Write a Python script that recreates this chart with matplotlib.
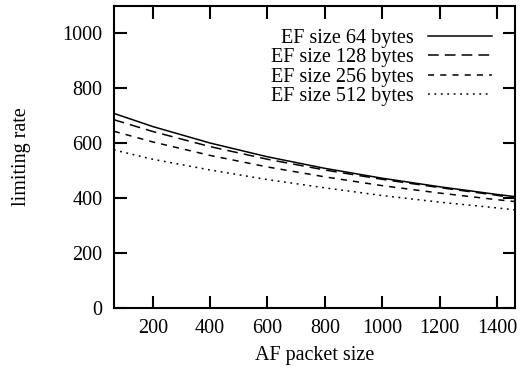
import matplotlib.pyplot as plt

plt.rcParams['font.family'] = ['Liberation Serif', 'DejaVu Serif']

# AF packet size (x) and limiting rate for each EF packet size
af_size = [64, 200, 400, 600, 800, 1000, 1200, 1400, 1464]
rate_64 = [708, 660, 600, 550, 508, 472, 441, 413, 405]
rate_128 = [685, 642, 587, 541, 502, 468, 438, 410, 399]
rate_256 = [643, 604, 555, 513, 477, 445, 418, 394, 387]
rate_512 = [575, 541, 502, 467, 437, 409, 385, 364, 357]

labels = ['EF size 64 bytes', 'EF size 128 bytes', 'EF size 256 bytes', 'EF size 512 bytes']
styles = ['-', (0, (7, 4)), (0, (4, 4)), (0, (1.2, 3))]

fig = plt.figure(figsize=(5.22, 3.76), dpi=100)
ax = fig.add_axes([0.218, 0.181, 0.769, 0.804])

for ys, lab, ls in zip([rate_64, rate_128, rate_256, rate_512], labels, styles):
    ax.plot(af_size, ys, color='black', linewidth=1.1, linestyle=ls, label=lab)

fs = 14.5
ax.set_xlim(64, 1464)
ax.set_ylim(0, 1100)
ax.set_xticks(range(200, 1401, 200))
ax.set_yticks(range(0, 1001, 200))
ax.tick_params(direction='in', length=9, width=1.5, top=True, right=True,
               labelsize=fs)
ax.tick_params(axis='x', pad=8)
ax.tick_params(axis='y', pad=8)
for s in ax.spines.values():
    s.set_linewidth(1.5)

ax.set_xlabel('AF packet size', fontsize=fs, labelpad=6)
ax.set_ylabel('limiting rate', fontsize=fs, labelpad=23)

ax.legend(loc='upper right', frameon=False, markerfirst=False, fontsize=fs,
          handlelength=3.2, labelspacing=0.02, handletextpad=0.7,
          borderaxespad=0.6, bbox_to_anchor=(0.993, 0.99))

fig.savefig('out.png', dpi=100)
